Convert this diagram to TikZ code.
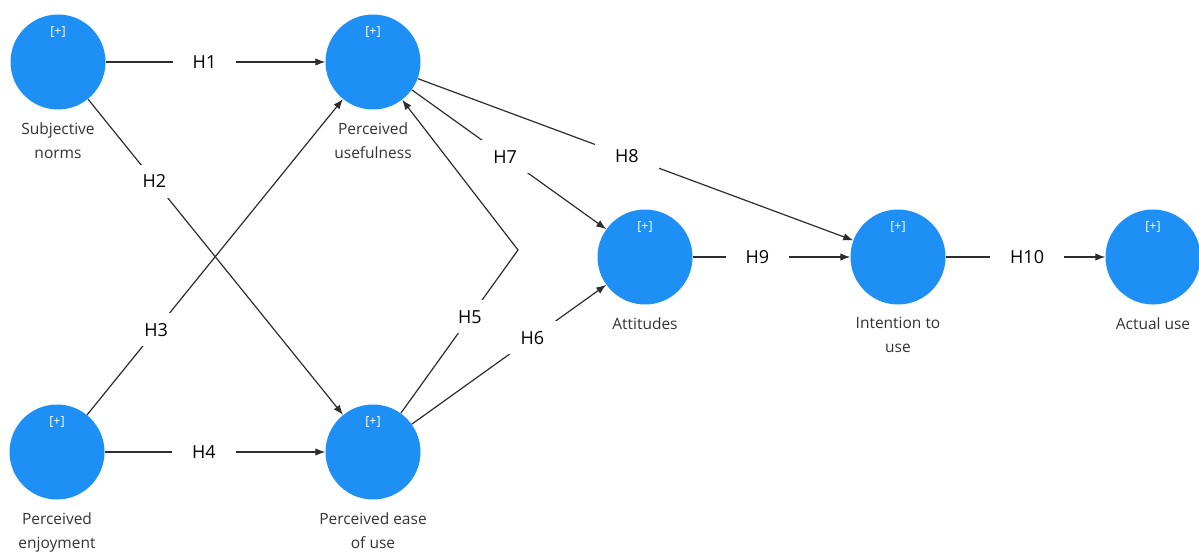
\documentclass[tikz,border=0pt]{standalone}
\usepackage{fontspec}
\setmainfont{Open Sans}
\usetikzlibrary{arrows.meta,positioning}
\definecolor{lvblue}{RGB}{30,144,245}
\definecolor{pathgray}{RGB}{45,45,45}

\begin{document}
\begin{tikzpicture} [ x=1pt, y=-1pt,
		      latent/.style={circle,fill=lvblue,minimum size=95pt,inner sep=0pt,
		        label={[plustag]90:{[+]}}},
		      plustag/.style={text=white,anchor=north,yshift=-9pt,font=\fontsize{12.5}{14}\selectfont},
		      lvname/.style={align=center,text=black!80,font=\fontsize{15.5}{24}\selectfont},
		      hpath/.style={draw=pathgray,line width=1.2pt,-{Latex[length=10pt,width=7.5pt]}},
		      hyp/.style={fill=white,inner xsep=20pt,inner ysep=10pt,font=\fontsize{18}{21}\selectfont}
		    ]
  \useasboundingbox (0,0) rectangle (1199,556);

  % latent variables
  \node[latent] (sn) at (58,62) {};
  \node[latent] (pu) at (373,62) {};
  \node[latent] (pe) at (57,452) {};
  \node[latent] (eou) at (373,452) {};
  \node[latent] (att) at (645,257) {};
  \node[latent] (itu) at (898,257) {};
  \node[latent] (au) at (1153,257) {};

  \node[lvname, below=9pt of sn] (snl) {Subjective\\norms};
  \node[lvname, below=9pt of pu] (pul) {Perceived\\usefulness};
  \node[lvname, below=9pt of pe] (pel) {Perceived\\enjoyment};
  \node[lvname, below=9pt of eou] (eoul) {Perceived ease\\of use};
  \node[lvname, below=9pt of att] (attl) {Attitudes};
  \node[lvname, below=9pt of itu] (itul) {Intention to\\use};
  \node[lvname, below=9pt of au] (aul) {Actual use};

  % hypotheses
  \coordinate (h5bend) at (518,250);
  \draw[hpath] (sn) -- node[hyp,pos=0.45] {H1} (pu);
  \draw[hpath] (sn) -- node[hyp,pos=0.26] {H2} (eou);
  \draw[hpath] (pe) -- node[hyp,pos=0.27] {H3} (pu);
  \draw[hpath] (pe) -- node[hyp,pos=0.45] {H4} (eou);
  \draw[hpath] (eou) -- node[hyp,pos=0.59] {H5} (h5bend) -- (pu);
  \draw[hpath] (eou) -- node[hyp,pos=0.62] {H6} (att);
  \draw[hpath] (pu) -- node[hyp,pos=0.48] {H7} (att);
  \draw[hpath] (pu) -- node[hyp,pos=0.48] {H8} (itu);
  \draw[hpath] (att) -- node[hyp,pos=0.41] {H9} (itu);
  \draw[hpath] (itu) -- node[hyp,pos=0.51] {H10} (au);
\end{tikzpicture}
\end{document}
